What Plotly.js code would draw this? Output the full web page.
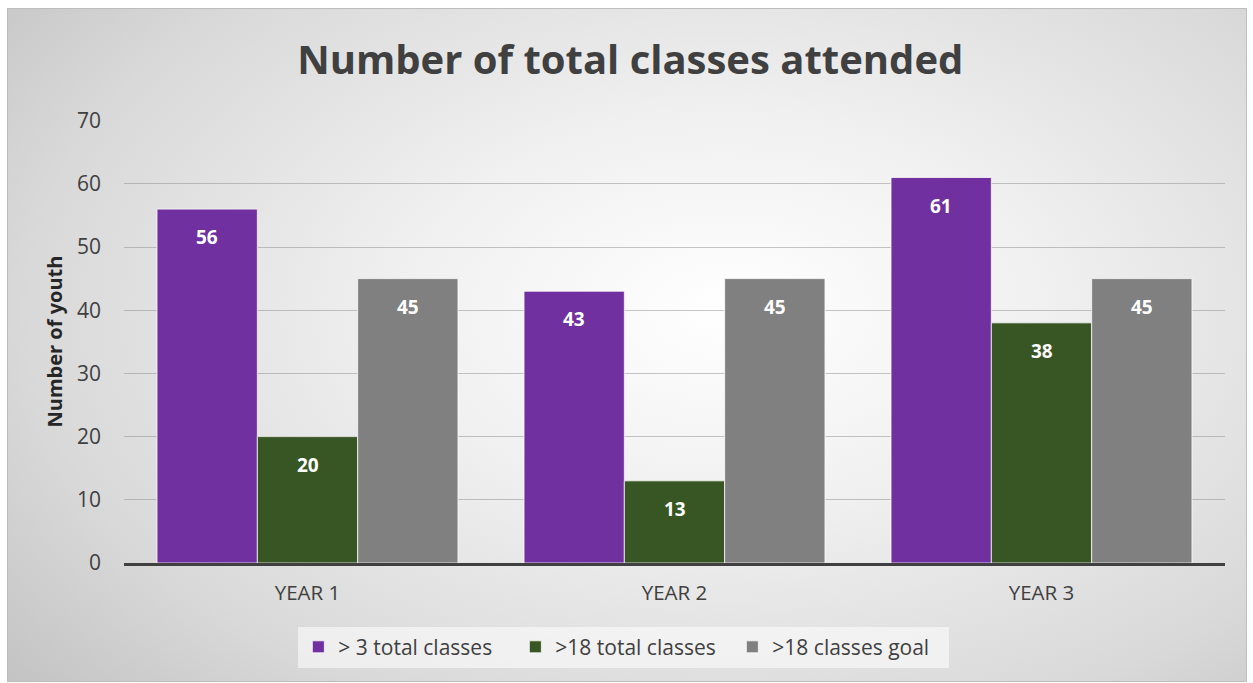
<!DOCTYPE html>
<html>
<head>
<meta charset="utf-8">
<script src="https://cdn.plot.ly/plotly-3.0.1.min.js"></script>
<style>
  html, body { margin: 0; padding: 0; background: #ffffff; width: 1253px; height: 683px; overflow: hidden; }
  #bg { position: absolute; left: 7px; top: 8px; width: 1238px; height: 672px; border: 1px solid #bdbdbd;
        background: radial-gradient(ellipse 75% 85% at 58% 45%, #ffffff 0%, #f0f0f0 35%, #d9d9d9 75%, #c4c4c4 100%); }
  #chart { position: absolute; left: 0; top: 0; width: 1253px; height: 683px; }
</style>
</head>
<body>
<div id="bg"></div>
<div id="chart"></div>
<script>
const categories = ["YEAR 1", "YEAR 2", "YEAR 3"];
const seriesNames = ["> 3 total classes", ">18 total classes", ">18 classes goal"];
const over3 = [56, 43, 61];
const over18 = [20, 13, 38];
const goal18 = [45, 45, 45];
const yTicks = [0, 10, 20, 30, 40, 50, 60, 70];

const colors = ["#7030A0", "#375623", "#808080"];
const seriesValues = [over3, over18, goal18];
const bargap = 0.18;

const traces = seriesValues.map((vals, i) => ({
  type: "bar",
  name: seriesNames[i],
  x: categories,
  y: vals,
  marker: { color: colors[i], line: { color: "rgba(255,255,255,0.75)", width: 1 } },
  hoverinfo: "skip"
}));

const barW = (1 - bargap) / seriesValues.length;
const annotations = [];
seriesValues.forEach((vals, i) => {
  vals.forEach((v, j) => {
    annotations.push({
      x: j + (i - (seriesValues.length - 1) / 2) * barW,
      y: v, xref: "x", yref: "y",
      text: "<b>" + v + "</b>",
      showarrow: false, yanchor: "middle", yshift: -28,
      font: { family: "Open Sans, sans-serif", size: 19, color: "#ffffff" }
    });
  });
});

const layout = {
  width: 1253, height: 683,
  paper_bgcolor: "rgba(0,0,0,0)",
  plot_bgcolor: "rgba(0,0,0,0)",
  margin: { l: 124, r: 28, t: 120, b: 120 },
  font: { family: "Open Sans, sans-serif", color: "#404040" },
  title: {
    text: "<b>Number of total classes attended</b>",
    font: { family: "Open Sans, sans-serif", size: 40, color: "#404040" },
    x: 0.503, xanchor: "center", y: 0.912, yanchor: "middle"
  },
  barmode: "group",
  bargap: bargap,
  bargroupgap: 0,
  showlegend: true,
  legend: {
    orientation: "h", x: 0.454, xanchor: "center", y: -0.19, yanchor: "middle",
    bgcolor: "rgba(255,255,255,0.55)",
    font: { family: "Open Sans, sans-serif", size: 21, color: "#404040" },
    itemwidth: 30,
    entrywidth: 172
  },
  xaxis: {
    type: "category",
    showline: true, linecolor: "#404040", linewidth: 3,
    showgrid: false, ticks: "",
    tickfont: { family: "Open Sans, sans-serif", size: 20.5, color: "#404040" },
    ticklabelstandoff: 9,
    fixedrange: true
  },
  yaxis: {
    range: [0, 70.1],
    tickvals: yTicks,
    ticktext: yTicks.map(String),
    showgrid: true, gridcolor: "rgba(130,130,130,0.45)", gridwidth: 1,
    zeroline: false, showline: false, ticks: "",
    tickfont: { family: "Open Sans, sans-serif", size: 21, color: "#404040" },
    ticklabelstandoff: 22,
    title: { text: "<b>Number of youth</b>", font: { family: "Open Sans, sans-serif", size: 20, color: "#262626" }, standoff: 8 },
    fixedrange: true
  },
  annotations: annotations
};

Plotly.newPlot("chart", traces, layout, { displayModeBar: false, staticPlot: true });
</script>
</body>
</html>
